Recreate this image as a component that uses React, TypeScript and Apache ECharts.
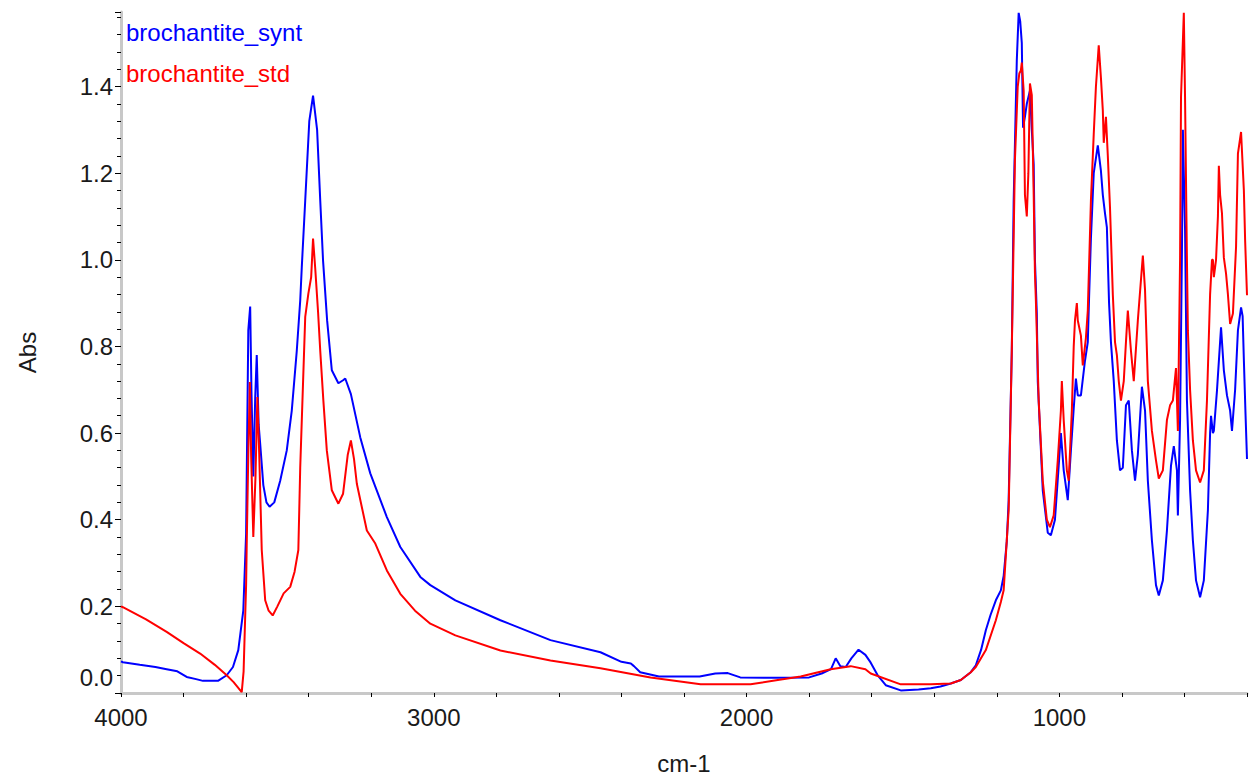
import React, { useEffect, useRef } from "react";
import * as echarts from "echarts";

const FONT = "'Liberation Sans', Arial, sans-serif";

const seriesNames = ["brochantite_synt", "brochantite_std"];
const seriesColors = ["#0000ff", "#ff0000"];

const xTickLabels = [1000, 2000, 3000, 4000];
const yTickLabels = [0, 0.2, 0.4, 0.6, 0.8, 1.0, 1.2, 1.4];

// [wavenumber cm-1, absorbance]
const synt: [number, number][] = [
  [4000, 0.073], [3994, 0.071], [3940, 0.065], [3890, 0.06], [3854, 0.055], [3820, 0.05],
  [3790, 0.037], [3760, 0.032], [3738, 0.028], [3690, 0.028], [3662, 0.041], [3642, 0.06],
  [3625, 0.099], [3609, 0.19], [3600, 0.368], [3593, 0.837], [3587, 0.892], [3583, 0.7],
  [3577, 0.5], [3571, 0.68], [3566, 0.78], [3560, 0.62], [3555, 0.575], [3545, 0.48],
  [3535, 0.44], [3525, 0.43], [3510, 0.44], [3491, 0.49], [3470, 0.56], [3454, 0.652],
  [3438, 0.79], [3427, 0.906], [3422, 0.983], [3411, 1.137], [3398, 1.32], [3386, 1.379],
  [3373, 1.3], [3363, 1.137], [3354, 0.998], [3341, 0.86], [3326, 0.745], [3305, 0.715],
  [3290, 0.722], [3283, 0.726], [3265, 0.69], [3235, 0.59], [3203, 0.507], [3150, 0.406],
  [3107, 0.337], [3043, 0.268], [3011, 0.249], [2931, 0.214], [2787, 0.168], [2627, 0.122],
  [2467, 0.094], [2400, 0.072], [2370, 0.068], [2360, 0.062], [2340, 0.048], [2280, 0.038],
  [2150, 0.038], [2100, 0.045], [2060, 0.046], [2020, 0.036], [1900, 0.035], [1800, 0.036],
  [1760, 0.045], [1730, 0.055], [1715, 0.08], [1700, 0.062], [1683, 0.06], [1665, 0.08],
  [1642, 0.1], [1620, 0.088], [1603, 0.07], [1580, 0.04], [1555, 0.018], [1507, 0.006],
  [1450, 0.008], [1411, 0.011], [1380, 0.015], [1347, 0.022], [1315, 0.03], [1283, 0.048],
  [1267, 0.064], [1250, 0.1], [1235, 0.145], [1220, 0.18], [1203, 0.214], [1187, 0.237],
  [1178, 0.27], [1168, 0.35], [1162, 0.445], [1152, 0.79], [1146, 1.137], [1136, 1.46],
  [1130, 1.57], [1125, 1.55], [1120, 1.5], [1116, 1.305], [1110, 1.33], [1104, 1.36],
  [1094, 1.39], [1088, 1.3], [1082, 1.22], [1078, 1.0], [1072, 0.876], [1069, 0.72],
  [1053, 0.468], [1037, 0.37], [1027, 0.364], [1014, 0.4], [1002, 0.525], [995, 0.6],
  [986, 0.514], [973, 0.445], [963, 0.56], [954, 0.657], [947, 0.726], [941, 0.687],
  [931, 0.687], [918, 0.767], [909, 0.81], [905, 0.91], [899, 1.05], [890, 1.2],
  [877, 1.264], [867, 1.205], [861, 1.15], [854, 1.107], [848, 1.075], [841, 0.9],
  [835, 0.81], [826, 0.72], [816, 0.583], [806, 0.514], [797, 0.52], [787, 0.664],
  [778, 0.675], [768, 0.56], [758, 0.49], [749, 0.55], [736, 0.707], [726, 0.652],
  [717, 0.49], [704, 0.352], [691, 0.249], [682, 0.225], [669, 0.26], [656, 0.375],
  [643, 0.525], [634, 0.57], [624, 0.514], [621, 0.41], [614, 0.63], [608, 1.02],
  [605, 1.3], [598, 1.067], [592, 0.675], [582, 0.468], [573, 0.352], [563, 0.26],
  [550, 0.221], [538, 0.26], [525, 0.422], [518, 0.6], [515, 0.64], [509, 0.6],
  [506, 0.605], [496, 0.698], [483, 0.844], [474, 0.745], [464, 0.687], [454, 0.652],
  [448, 0.605], [438, 0.7], [429, 0.837], [419, 0.89], [414, 0.87], [410, 0.768],
  [405, 0.65], [400, 0.54],
];

const std: [number, number][] = [
  [4000, 0.2], [3994, 0.198], [3920, 0.17], [3854, 0.141], [3800, 0.115], [3747, 0.091],
  [3700, 0.065], [3662, 0.041], [3640, 0.025], [3614, 0.002], [3608, 0.05], [3600, 0.25],
  [3598, 0.345], [3593, 0.55], [3588, 0.718], [3584, 0.55], [3577, 0.36], [3570, 0.5],
  [3564, 0.683], [3558, 0.55], [3550, 0.33], [3539, 0.214], [3528, 0.19], [3515, 0.179],
  [3500, 0.2], [3480, 0.23], [3459, 0.245], [3445, 0.28], [3433, 0.33], [3427, 0.52],
  [3411, 0.868], [3401, 0.922], [3392, 0.96], [3386, 1.049], [3379, 0.98], [3370, 0.88],
  [3363, 0.79], [3353, 0.675], [3342, 0.56], [3326, 0.468], [3305, 0.437], [3290, 0.46],
  [3275, 0.55], [3265, 0.583], [3255, 0.54], [3246, 0.483], [3214, 0.375], [3187, 0.345],
  [3150, 0.283], [3107, 0.229], [3060, 0.19], [3011, 0.16], [2931, 0.133], [2787, 0.098],
  [2627, 0.075], [2467, 0.057], [2307, 0.036], [2147, 0.02], [1987, 0.02], [1900, 0.03],
  [1827, 0.038], [1731, 0.055], [1667, 0.062], [1620, 0.055], [1603, 0.045], [1507, 0.02],
  [1411, 0.02], [1347, 0.022], [1315, 0.03], [1283, 0.048], [1267, 0.06], [1235, 0.099],
  [1203, 0.168], [1187, 0.21], [1178, 0.237], [1162, 0.422], [1152, 0.79], [1142, 1.23],
  [1133, 1.4], [1128, 1.43], [1123, 1.437], [1120, 1.455], [1114, 1.39], [1110, 1.15],
  [1104, 1.1], [1099, 1.2], [1094, 1.407], [1088, 1.38], [1082, 1.15], [1078, 0.97],
  [1075, 0.906], [1066, 0.675], [1053, 0.49], [1040, 0.4], [1030, 0.383], [1018, 0.41],
  [1005, 0.537], [995, 0.652], [992, 0.72], [986, 0.63], [976, 0.514], [970, 0.49],
  [960, 0.652], [954, 0.8], [950, 0.86], [944, 0.9], [941, 0.86], [931, 0.825],
  [925, 0.756], [915, 0.82], [909, 0.883], [899, 1.137], [890, 1.29], [883, 1.4],
  [874, 1.495], [867, 1.42], [861, 1.345], [858, 1.27], [851, 1.33], [845, 1.24],
  [838, 1.12], [829, 0.92], [822, 0.81], [816, 0.78], [810, 0.72], [803, 0.675],
  [794, 0.72], [787, 0.81], [781, 0.883], [771, 0.79], [762, 0.72], [749, 0.86],
  [733, 1.01], [726, 0.93], [717, 0.72], [704, 0.605], [691, 0.537], [682, 0.495],
  [669, 0.514], [656, 0.63], [646, 0.664], [637, 0.675], [627, 0.75], [621, 0.605],
  [614, 1.0], [611, 1.375], [602, 1.57], [598, 1.37], [592, 0.998], [589, 0.837],
  [582, 0.7], [573, 0.583], [563, 0.514], [550, 0.486], [538, 0.514], [528, 0.675],
  [518, 0.92], [512, 1.0], [509, 1.0], [506, 0.96], [499, 1.0], [493, 1.1],
  [490, 1.217], [486, 1.15], [480, 1.107], [474, 1.005], [467, 0.968], [461, 0.92],
  [454, 0.852], [445, 0.876], [435, 1.03], [429, 1.245], [419, 1.295], [410, 1.16],
  [406, 1.045], [400, 0.918],
];

const Y_MAX = 1.572;

export default function App() {
  const ref = useRef<HTMLDivElement>(null);
  useEffect(() => {
    if (!ref.current) return;
    const chart = echarts.init(ref.current, undefined, { renderer: "svg" });
    const labelStyle = { fontFamily: FONT, fontSize: 24, color: "#1a1a1a" };
    chart.setOption({
      animation: false,
      backgroundColor: "#ffffff",
      grid: { left: 121, right: 4, top: 12, bottom: 87 },
      legend: {
        orient: "vertical",
        left: 116,
        top: 15,
        icon: "none",
        itemWidth: 0,
        itemHeight: 0,
        itemGap: 17,
        selectedMode: false,
        textStyle: { fontFamily: FONT, fontSize: 24 },
        data: seriesNames.map((n, i) => ({ name: n, textStyle: { color: seriesColors[i], fontFamily: FONT, fontSize: 24 } })),
      },
      xAxis: {
        type: "value",
        inverse: true,
        min: 400,
        max: 4000,
        interval: 200,
        name: "cm-1",
        nameLocation: "middle",
        nameGap: 58,
        nameTextStyle: labelStyle,
        axisLine: { show: true, lineStyle: { color: "#c8c8c8", width: 3 } },
        axisTick: { show: true, length: 4, lineStyle: { color: "#000", width: 1 } },
        axisLabel: {
          ...labelStyle,
          margin: 12,
          showMinLabel: true,
          showMaxLabel: true,
          formatter: (v: number) => (xTickLabels.includes(Math.round(v)) && Math.abs(v - Math.round(v)) < 1e-6 ? String(Math.round(v)) : ""),
        },
        splitLine: { show: false },
      },
      yAxis: [
        {
          type: "value",
          min: 0,
          max: Y_MAX,
          interval: 0.2,
          name: "Abs",
          nameLocation: "middle",
          nameGap: 82,
          nameTextStyle: labelStyle,
          axisLine: { show: true, lineStyle: { color: "#c8c8c8", width: 3 } },
          axisTick: { show: true, length: 6, lineStyle: { color: "#000", width: 1 } },
          axisLabel: {
            ...labelStyle,
            margin: 8,
            formatter: (v: number) => {
              const hit = yTickLabels.find((t) => Math.abs(t - v) < 1e-6);
              if (hit === undefined) return "";
              if (hit === 0) return "{z|0.0}";
              return hit.toFixed(1);
            },
            rich: { z: { ...labelStyle, padding: [0, 0, 32, 0] } },
          },
          splitLine: { show: false },
        },
        {
          type: "value",
          min: 0,
          max: Y_MAX,
          interval: 0.04,
          position: "left",
          axisLine: { show: false },
          axisTick: { show: true, length: 4, lineStyle: { color: "#000", width: 1 } },
          axisLabel: { show: false },
          splitLine: { show: false },
        },
      ],
      series: [
        {
          name: seriesNames[0],
          type: "line",
          data: synt,
          showSymbol: false,
          yAxisIndex: 0,
          lineStyle: { color: seriesColors[0], width: 2 },
          itemStyle: { color: seriesColors[0] },
        },
        {
          name: seriesNames[1],
          type: "line",
          data: std,
          showSymbol: false,
          yAxisIndex: 0,
          lineStyle: { color: seriesColors[1], width: 2 },
          itemStyle: { color: seriesColors[1] },
        },
      ],
    });
    return () => chart.dispose();
  }, []);
  return (
    <div
      ref={ref}
      style={{ position: "absolute", left: 0, top: 0, width: 1251, height: 780, background: "#fff" }}
    />
  );
}
